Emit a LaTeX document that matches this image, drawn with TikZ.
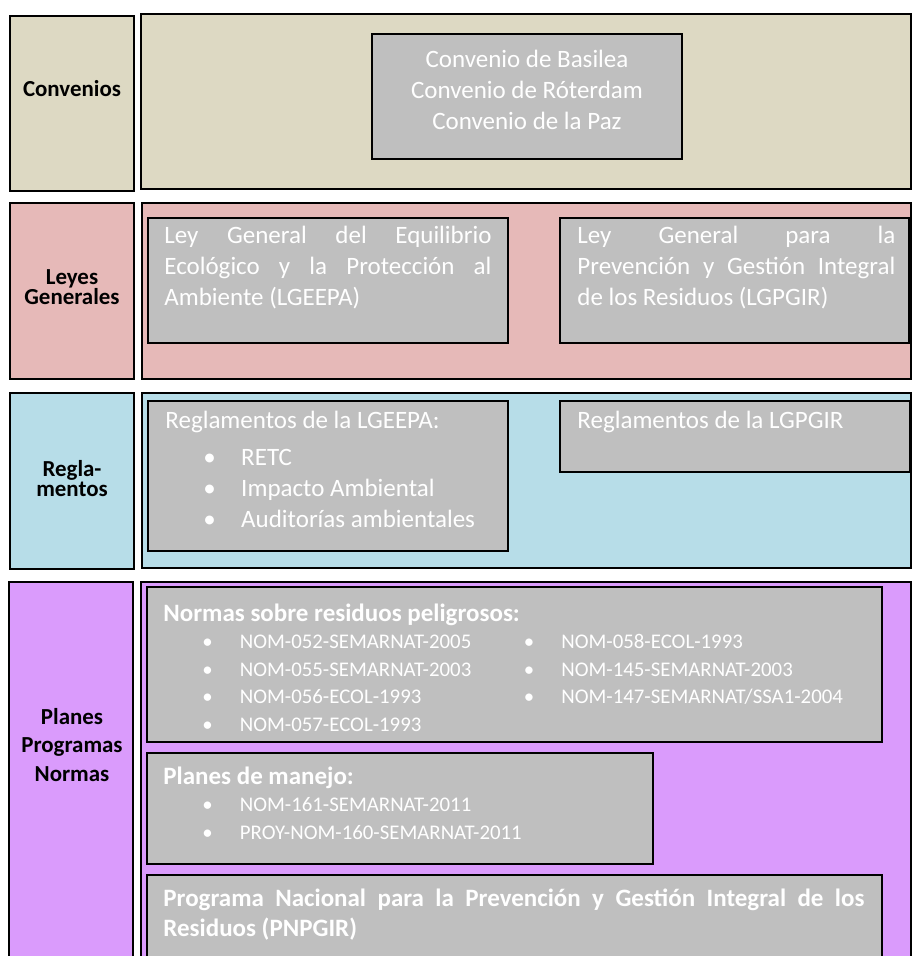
\documentclass[tikz,border=0pt]{standalone}
\usepackage{fontspec}
\setmainfont{Carlito}
\usetikzlibrary{fit}
\setlength{\parindent}{0pt}
\definecolor{convtan}{HTML}{DDD9C3}
\definecolor{leypink}{HTML}{E6B9B8}
\definecolor{reglblue}{HTML}{B7DDE8}
\definecolor{planlila}{HTML}{DA9BFC}
\definecolor{boxgrey}{HTML}{BFBFBF}
\newcommand{\jline}[2]{\makebox[#1][s]{#2}}
\newcommand{\itm}[1]{\hspace*{18.2pt}\makebox[18.2pt][l]{\textbullet}#1}
\newcommand{\itmone}[1]{\hspace*{18.7pt}\makebox[18pt][l]{\textbullet}#1}
\newcommand{\itmtwo}[2]{\itmone{\makebox[136.3pt][l]{#1}}\makebox[18pt][l]{\textbullet}#2}
\begin{document}
\begin{tikzpicture}[x=0.48pt,y=-0.48pt,
    band/.style={draw=black,line width=1.3pt,inner sep=0pt},
    gbox/.style={draw=black,line width=0.5pt,fill=boxgrey,inner sep=0pt},
    rowname/.style={font=\fontsize{11}{9.6}\selectfont\bfseries,align=center,inner sep=0pt},
    wtxt/.style={text=white,font=\fontsize{12}{14.8}\selectfont,align=left,inner sep=0pt,anchor=north west},
    wsmall/.style={text=white,font=\fontsize{10}{13.2}\selectfont,align=left,inner sep=0pt,anchor=north west}]
        \useasboundingbox (0,0) rectangle (912,956);
        \clip (0,0) rectangle (912,956);
        % Convenios
        \node[band,fill=convtan,fit={(10,16) (134,191)}] (convL) {};
        \node[band,fill=convtan,fit={(141,14) (911,189)}] (convR) {};
        \node[rowname] (convName) at (72,89) {Convenios};
        \node[gbox,fit={(372,34) (682,159)}] (basBox) {};
        \node[wtxt,anchor=north,align=center] (basTxt) at (527,45.4) {\strut Convenio de Basilea\\Convenio de Róterdam\\Convenio de la Paz};
        % Leyes generales
        \node[band,fill=leypink,fit={(10,203) (134,379)}] (leyL) {};
        \node[band,fill=leypink,fit={(142,203) (911,379)}] (leyR) {};
        \node[rowname] (leyName) at (72,287) {Leyes\\Generales};
        \node[gbox,fit={(148,218) (508,343)}] (lgeepaBox) {};
        \node[gbox,fit={(560,218) (909,343)}] (lgpgirBox) {};
        \node[wtxt] (lgeepaTxt) at (164,221.4) {\strut\jline{157pt}{Ley General del Equilibrio}\\\jline{157pt}{Ecológico y la Protección al}\\Ambiente (LGEEPA)};
        \node[wtxt] (lgpgirTxt) at (577,221.4) {\strut\jline{152.6pt}{Ley General para la}\\\jline{152.6pt}{Prevención y Gestión Integral}\\de los Residuos (LGPGIR)};
        % Reglamentos
        \node[band,fill=reglblue,fit={(10,393) (134,569)}] (reglL) {};
        \node[band,fill=reglblue,fit={(142,393) (911,568)}] (reglR) {};
        \node[rowname] (reglName) at (72,479) {Regla-\\mentos};
        \node[gbox,fit={(148,401) (508,551)}] (reglABox) {};
        \node[gbox,fit={(560,401) (910,472)}] (reglBBox) {};
        \node[wtxt] (reglATxt) at (165,406.4) {\strut Reglamentos de la LGEEPA:\\[3pt]\itm{RETC}\\\itm{Impacto Ambiental}\\\itm{Auditorías ambientales}};
        \node[wtxt] (reglBTxt) at (577,406.4) {\strut Reglamentos de la LGPGIR};
        % Planes, programas, normas
        \node[band,fill=planlila,fit={(9,582) (133,990)}] (planL) {};
        \node[band,fill=planlila,fit={(141,582) (911,990)}] (planR) {};
        \node[rowname,font=\fontsize{11}{13.8}\selectfont\bfseries] (planName) at (72,745) {Planes\\Programas\\Normas};
        \node[gbox,fit={(147,587) (882,742)}] (normBox) {};
        \node[gbox,fit={(147,753) (653,864)}] (manejoBox) {};
        \node[gbox,fit={(147,875) (882,990)}] (pnpgirBox) {};
        \node[wsmall] (normTxt) at (163,601.8) {\strut{\fontsize{12}{13.2}\selectfont\bfseries Normas sobre residuos peligrosos:}\\
            \itmtwo{NOM-052-SEMARNAT-2005}{NOM-058-ECOL-1993}\\
            \itmtwo{NOM-055-SEMARNAT-2003}{NOM-145-SEMARNAT-2003}\\
            \itmtwo{NOM-056-ECOL-1993}{NOM-147-SEMARNAT/SSA1-2004}\\
            \itmone{NOM-057-ECOL-1993}};
        \node[wsmall] (manejoTxt) at (163,764.8) {\strut{\fontsize{12}{13.2}\selectfont\bfseries Planes de manejo:}\\
            \itmone{NOM-161-SEMARNAT-2011}\\
            \itmone{PROY-NOM-160-SEMARNAT-2011}};
        \node[wtxt,font=\fontsize{12}{14.4}\selectfont\bfseries] (pnpgirTxt) at (163,884.9) {\strut\jline{336.5pt}{Programa Nacional para la Prevención y Gestión Integral de los}\\Residuos (PNPGIR)};
      \end{tikzpicture}
\end{document}
